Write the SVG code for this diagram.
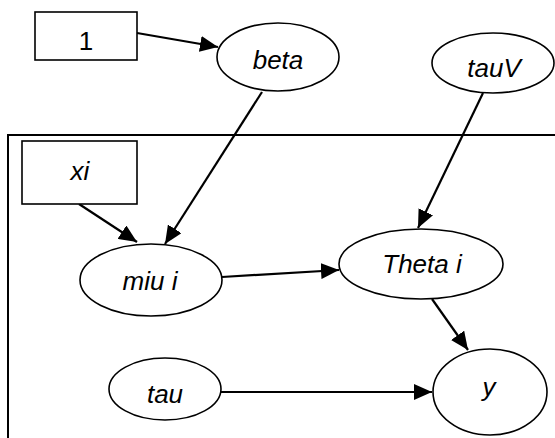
<svg xmlns="http://www.w3.org/2000/svg" width="555" height="438" viewBox="0 0 555 438">
  <defs>
    <marker id="arrow" markerUnits="userSpaceOnUse" markerWidth="20" markerHeight="16" refX="18" refY="8" orient="auto">
      <path d="M0,0 L18,8 L0,16 Z" fill="#000"/>
    </marker>
    <style>
      .node { fill: #fff; stroke: #000; stroke-width: 1.6; }
      .label { font-family: "Liberation Sans", Arial, sans-serif; font-size: 26px; font-style: italic; text-anchor: middle; fill: #000; }
      .plain { font-style: normal; }
      .edge { stroke: #000; stroke-width: 2.2; fill: none; marker-end: url(#arrow); }
      .plate { stroke: #000; stroke-width: 2; fill: none; }
    </style>
  </defs>

  <rect width="555" height="438" fill="#fff"/>

  <!-- plate -->
  <path class="plate" d="M8,438 L8,135 L555,135"/>

  <!-- connectors -->
  <g id="edges">
    <line class="edge" x1="137" y1="33" x2="218" y2="47"/>
    <line class="edge" x1="262" y1="92" x2="165" y2="244"/>
    <line class="edge" x1="79" y1="204" x2="137" y2="242"/>
    <line class="edge" x1="483" y1="93" x2="418" y2="228"/>
    <line class="edge" x1="222" y1="277" x2="339" y2="270"/>
    <line class="edge" x1="432" y1="299" x2="468" y2="350"/>
    <line class="edge" x1="220" y1="392" x2="432" y2="392"/>
  </g>

  <g id="one">
    <rect class="node" x="35" y="12" width="102" height="48"/>
    <text class="label plain" x="86" y="50">1</text>
  </g>

  <g id="beta">
    <ellipse class="node" cx="278" cy="57" rx="61" ry="34"/>
    <text class="label" x="278" y="69">beta</text>
  </g>

  <g id="tauV">
    <ellipse class="node" cx="493" cy="63" rx="61" ry="30"/>
    <text class="label" x="494" y="77">tauV</text>
  </g>

  <g id="xi">
    <rect class="node" x="22" y="141" width="115" height="63"/>
    <text class="label" x="80" y="180">xi</text>
  </g>

  <g id="miu">
    <ellipse class="node" cx="151" cy="280" rx="71" ry="36"/>
    <text class="label" x="150" y="290">miu i</text>
  </g>

  <g id="theta">
    <ellipse class="node" cx="421" cy="264" rx="82" ry="35"/>
    <text class="label" x="422" y="273">Theta i</text>
  </g>

  <g id="tau">
    <ellipse class="node" cx="165" cy="389" rx="56" ry="31"/>
    <text class="label" x="165" y="403">tau</text>
  </g>

  <g id="y">
    <ellipse class="node" cx="490" cy="392" rx="57" ry="43"/>
    <text class="label" x="489" y="396">y</text>
  </g>
</svg>
